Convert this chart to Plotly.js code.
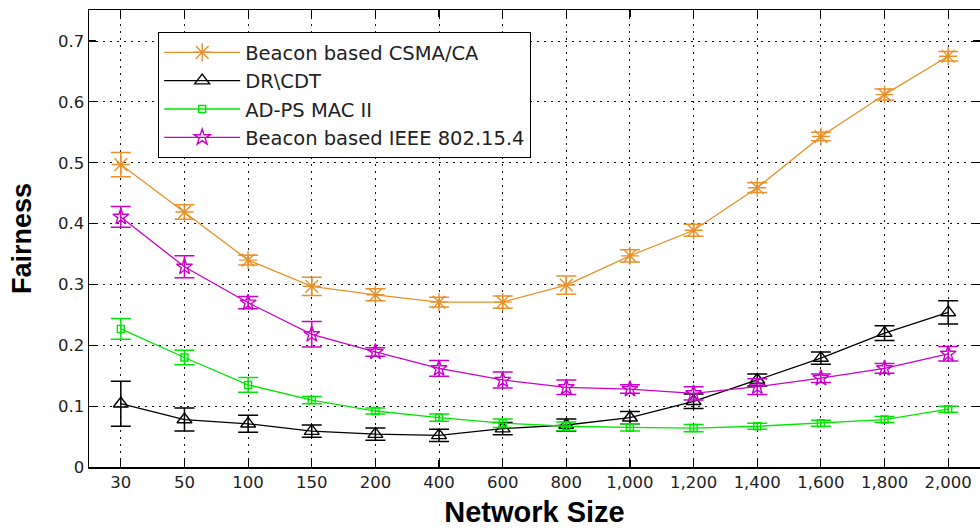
<!DOCTYPE html>
<html>
<head>
<meta charset="utf-8">
<script src="https://cdn.plot.ly/plotly-3.0.1.min.js"></script>
<style>html,body{margin:0;padding:0;background:#fff;}#chart{width:980px;height:528px;}</style>
</head>
<body>
<div id="chart"></div>
<script>
const categories = ["30","50","100","150","200","400","600","800","1,000","1,200","1,400","1,600","1,800","2,000"];

const csmaName = "Beacon based CSMA/CA";
const csmaY   = [0.497,0.419,0.340,0.297,0.283,0.271,0.271,0.299,0.347,0.389,0.459,0.543,0.612,0.675];
const csmaErr = [0.020,0.012,0.008,0.015,0.010,0.008,0.010,0.015,0.010,0.010,0.008,0.007,0.009,0.008];

const drName = "DR\\CDT";
const drY   = [0.104,0.078,0.071,0.059,0.054,0.052,0.063,0.069,0.081,0.108,0.143,0.179,0.220,0.254];
const drErr = [0.037,0.019,0.014,0.010,0.010,0.010,0.010,0.010,0.010,0.012,0.010,0.010,0.012,0.019];

const adpsName = "AD-PS MAC II";
const adpsY   = [0.227,0.180,0.135,0.110,0.092,0.081,0.072,0.067,0.065,0.064,0.067,0.072,0.078,0.095];
const adpsErr = [0.017,0.012,0.012,0.006,0.005,0.006,0.007,0.007,0.006,0.006,0.005,0.005,0.005,0.005];

const ieeeName = "Beacon based IEEE 802.15.4";
const ieeeY   = [0.411,0.329,0.270,0.218,0.189,0.162,0.143,0.131,0.128,0.121,0.132,0.146,0.162,0.186];
const ieeeErr = [0.017,0.018,0.010,0.021,0.007,0.013,0.013,0.012,0.007,0.011,0.013,0.007,0.008,0.012];

function series(name, y, err, color, symbol, size) {
  return {
    type: "scatter", mode: "lines+markers", name: name,
    x: categories, y: y,
    line: {color: color, width: 1.3},
    marker: {symbol: symbol, size: size, color: color, line: {color: color, width: 1.4}},
    error_y: {type: "data", array: err, visible: true, color: color, thickness: 1.5, width: 10}
  };
}

const data = [
  series(csmaName, csmaY, csmaErr, "#E8912A", "asterisk-open", 15),
  series(drName, drY, drErr, "#000000", "triangle-up-open", 13),
  series(adpsName, adpsY, adpsErr, "#00E600", "square-open", 7),
  series(ieeeName, ieeeY, ieeeErr, "#CC00CC", "star-open", 12)
];

const tickFont = "DejaVu Sans, Liberation Sans, Arial, sans-serif";
const titleFont = "Liberation Sans, Arial, sans-serif";
const layout = {
  width: 980, height: 528,
  margin: {l: 89, r: 0, t: 10, b: 61},
  paper_bgcolor: "#fff", plot_bgcolor: "#fff",
  showlegend: true,
  font: {family: tickFont, color: "#222"},
  xaxis: {
    type: "category", range: [-0.5, 13.5],
    showline: true, linecolor: "#000", linewidth: 1.5, mirror: "allticks",
    ticks: "inside", ticklen: 7, tickcolor: "#000", tickwidth: 1.2,
    showgrid: true, gridcolor: "#111", gridwidth: 1, griddash: "2px,5px",
    tickfont: {size: 16.5, family: tickFont, color: "#222"},
    title: {text: "<b>Network Size</b>", font: {size: 29, family: titleFont, color: "#000"}, standoff: 10},
    zeroline: false, automargin: false
  },
  yaxis: {
    range: [0, 0.751], tickvals: [0,0.1,0.2,0.3,0.4,0.5,0.6,0.7], ticktext: ["0","0.1","0.2","0.3","0.4","0.5","0.6","0.7"],
    showline: true, linecolor: "#000", linewidth: 1.5, mirror: "allticks",
    ticks: "inside", ticklen: 7, tickcolor: "#000", tickwidth: 1.2,
    showgrid: true, gridcolor: "#111", gridwidth: 1, griddash: "2px,5px",
    tickfont: {size: 16.5, family: tickFont, color: "#222"},
    title: {text: "<b>Fairness</b>", font: {size: 27, family: titleFont, color: "#000"}, standoff: 18},
    zeroline: false, automargin: false
  },
  legend: {
    x: 0.0774, y: 0.952, xanchor: "left", yanchor: "top",
    bgcolor: "#fff", bordercolor: "#000", borderwidth: 1.2,
    font: {size: 19.5, family: tickFont, color: "#222"},
    itemwidth: 76, tracegroupgap: 0
  }
};

Plotly.newPlot("chart", data, layout, {displayModeBar: false, staticPlot: true});
</script>
</body>
</html>
